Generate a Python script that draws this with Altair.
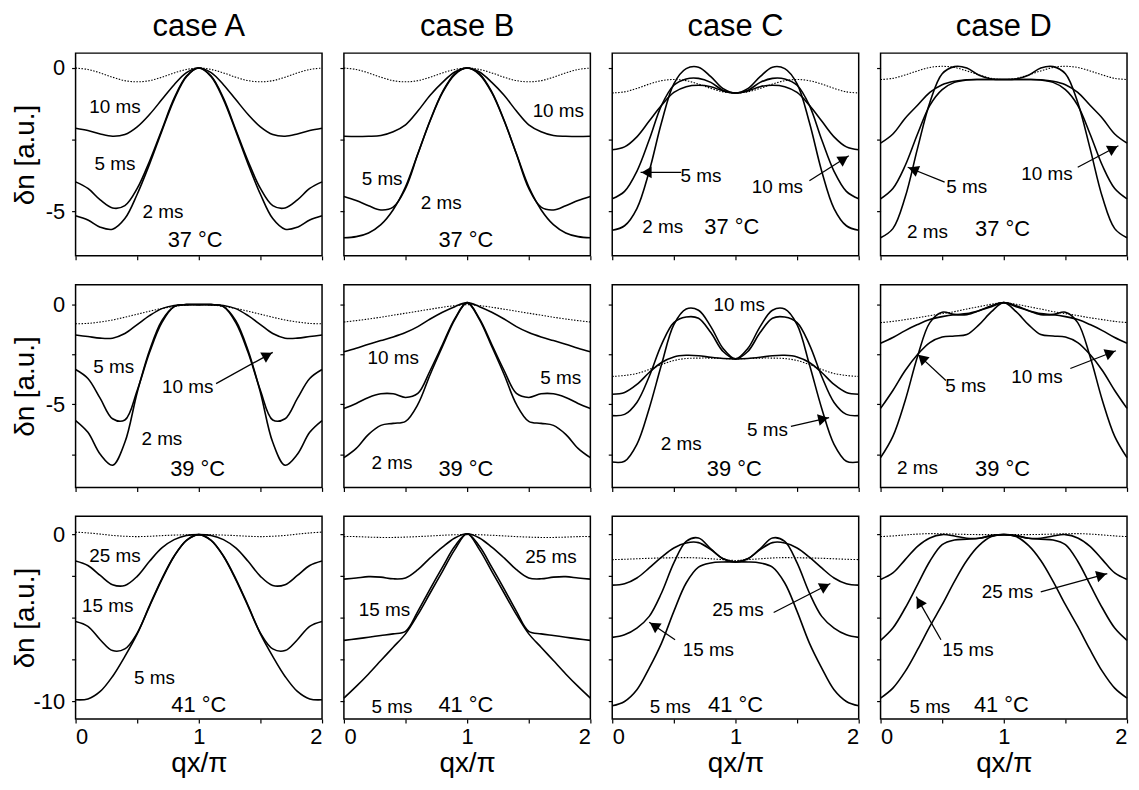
import math
import altair as alt
import pandas as pd

# ---------------- data ----------------
qx = [0.0, 0.1, 0.2, 0.3, 0.4, 0.5, 0.6, 0.7, 0.8, 0.9, 1.0,
      1.1, 1.2, 1.3, 1.4, 1.5, 1.6, 1.7, 1.8, 1.9, 2.0]

case_titles = ["case A", "case B", "case C", "case D"]

# ---- row 1 : 37 C
a1_dot = [0, -0.05, -0.17, -0.32, -0.44, -0.48, -0.44, -0.32, -0.17, -0.05, 0, -0.05, -0.17, -0.32, -0.44, -0.48, -0.44, -0.32, -0.17, -0.05, 0]
a1_10 = [-2.10, -2.18, -2.30, -2.38, -2.32, -2.05, -1.62, -1.10, -0.58, -0.16, 0, -0.16, -0.58, -1.10, -1.62, -2.05, -2.32, -2.38, -2.30, -2.18, -2.10]
a1_5 = [-3.97, -4.20, -4.60, -4.88, -4.80, -4.20, -3.25, -2.15, -1.05, -0.28, 0, -0.28, -1.05, -2.15, -3.25, -4.20, -4.80, -4.88, -4.60, -4.20, -3.97]
a1_2 = [-5.15, -5.30, -5.55, -5.62, -5.25, -4.40, -3.35, -2.20, -1.10, -0.30, 0, -0.30, -1.10, -2.20, -3.35, -4.40, -5.25, -5.62, -5.55, -5.30, -5.15]

b1_dot = [0, -0.05, -0.17, -0.32, -0.44, -0.48, -0.44, -0.32, -0.17, -0.05, 0, -0.05, -0.17, -0.32, -0.44, -0.48, -0.44, -0.32, -0.17, -0.05, 0]
b1_10 = [-2.38, -2.39, -2.38, -2.35, -2.22, -1.98, -1.50, -0.95, -0.50, -0.14, 0, -0.14, -0.50, -0.95, -1.50, -1.98, -2.22, -2.35, -2.38, -2.39, -2.38]
b1_5 = [-4.48, -4.62, -4.80, -4.95, -4.85, -4.20, -3.00, -1.82, -0.83, -0.20, 0, -0.20, -0.83, -1.82, -3.00, -4.20, -4.85, -4.95, -4.80, -4.62, -4.48]
b1_2 = [-5.92, -5.88, -5.75, -5.46, -4.94, -4.14, -2.99, -1.84, -0.86, -0.23, 0, -0.23, -0.86, -1.84, -2.99, -4.14, -4.94, -5.46, -5.75, -5.88, -5.92]

c1_dot = [-0.87, -0.83, -0.71, -0.56, -0.44, -0.40, -0.44, -0.56, -0.71, -0.83, -0.87, -0.83, -0.71, -0.56, -0.44, -0.40, -0.44, -0.56, -0.71, -0.83, -0.87]
c1_2 = [-5.66, -5.50, -4.90, -3.60, -1.90, -0.55, -0.02, 0.03, -0.30, -0.72, -0.87, -0.72, -0.30, 0.03, -0.02, -0.55, -1.90, -3.60, -4.90, -5.50, -5.66]
c1_5 = [-4.56, -4.30, -3.60, -2.50, -1.30, -0.60, -0.38, -0.36, -0.50, -0.78, -0.87, -0.78, -0.50, -0.36, -0.38, -0.60, -1.30, -2.50, -3.60, -4.30, -4.56]
c1_10 = [-2.85, -2.75, -2.40, -1.85, -1.30, -0.85, -0.65, -0.60, -0.65, -0.80, -0.87, -0.80, -0.65, -0.60, -0.65, -0.85, -1.30, -1.85, -2.40, -2.75, -2.85]

d1_dot = [-0.40, -0.36, -0.24, -0.10, 0.02, 0.06, 0.02, -0.10, -0.24, -0.36, -0.40, -0.36, -0.24, -0.10, 0.02, 0.06, 0.02, -0.10, -0.24, -0.36, -0.40]
d1_2 = [-5.92, -5.60, -4.50, -2.80, -1.20, -0.20, 0.05, 0.00, -0.25, -0.38, -0.40, -0.38, -0.25, 0.00, 0.05, -0.20, -1.20, -2.80, -4.50, -5.60, -5.92]
d1_5 = [-4.56, -4.20, -3.40, -2.30, -1.30, -0.75, -0.50, -0.42, -0.40, -0.40, -0.40, -0.40, -0.40, -0.42, -0.50, -0.75, -1.30, -2.30, -3.40, -4.20, -4.56]
d1_10 = [-2.62, -2.30, -1.75, -1.30, -0.85, -0.58, -0.46, -0.41, -0.40, -0.40, -0.40, -0.40, -0.40, -0.41, -0.46, -0.58, -0.85, -1.30, -1.75, -2.30, -2.62]

# ---- row 2 : 39 C
a2_dot = [-0.96, -0.94, -0.87, -0.77, -0.63, -0.48, -0.33, -0.19, -0.09, -0.02, 0, -0.02, -0.09, -0.19, -0.33, -0.48, -0.63, -0.77, -0.87, -0.94, -0.96]
a2_10 = [-1.52, -1.60, -1.68, -1.68, -1.45, -1.00, -0.55, -0.20, -0.04, 0, 0, 0, -0.04, -0.20, -0.55, -1.00, -1.45, -1.68, -1.68, -1.60, -1.52]
a2_5 = [-3.25, -3.70, -4.70, -5.72, -5.78, -4.30, -2.40, -0.90, -0.10, 0, 0, 0, -0.10, -0.90, -2.40, -4.30, -5.78, -5.72, -4.70, -3.70, -3.25]
a2_2 = [-5.81, -6.40, -7.50, -8.05, -6.90, -4.40, -2.30, -0.80, -0.10, 0, 0, 0, -0.10, -0.80, -2.30, -4.40, -6.90, -8.05, -7.50, -6.40, -5.81]

b2_dot = [-0.87, -0.80, -0.72, -0.63, -0.53, -0.43, -0.33, -0.23, -0.13, -0.05, 0, -0.05, -0.13, -0.23, -0.33, -0.43, -0.53, -0.63, -0.72, -0.80, -0.87]
b2_10 = [-2.36, -2.18, -1.98, -1.80, -1.62, -1.40, -1.10, -0.72, -0.38, -0.10, 0.10, -0.10, -0.38, -0.72, -1.10, -1.40, -1.62, -1.80, -1.98, -2.18, -2.36]
b2_5 = [-5.20, -4.95, -4.65, -4.47, -4.47, -4.65, -4.45, -3.30, -2.00, -0.70, 0.10, -0.70, -2.00, -3.30, -4.45, -4.65, -4.47, -4.47, -4.65, -4.95, -5.20]
b2_2 = [-7.67, -7.20, -6.50, -6.05, -5.95, -5.85, -5.00, -3.50, -2.10, -0.75, 0.10, -0.75, -2.10, -3.50, -5.00, -5.85, -5.95, -6.05, -6.50, -7.20, -7.67]

c2_dot = [-3.60, -3.55, -3.45, -3.25, -3.00, -2.80, -2.70, -2.68, -2.68, -2.70, -2.72, -2.70, -2.68, -2.68, -2.70, -2.80, -3.00, -3.25, -3.45, -3.55, -3.60]
c2_2 = [-7.89, -7.85, -7.00, -5.20, -3.00, -1.00, -0.22, -0.28, -1.10, -2.20, -2.72, -2.20, -1.10, -0.28, -0.22, -1.00, -3.00, -5.20, -7.00, -7.85, -7.89]
c2_5 = [-5.56, -5.50, -4.90, -3.60, -2.00, -0.90, -0.62, -0.68, -1.40, -2.35, -2.72, -2.35, -1.40, -0.68, -0.62, -0.90, -2.00, -3.60, -4.90, -5.50, -5.56]
c2_10 = [-4.49, -4.40, -4.00, -3.40, -2.90, -2.62, -2.54, -2.56, -2.64, -2.70, -2.72, -2.70, -2.64, -2.56, -2.54, -2.62, -2.90, -3.40, -4.00, -4.40, -4.49]

d2_dot = [-0.90, -0.84, -0.75, -0.66, -0.55, -0.45, -0.35, -0.22, -0.10, 0.02, 0.10, 0.02, -0.10, -0.22, -0.35, -0.45, -0.55, -0.66, -0.75, -0.84, -0.90]
d2_2 = [-7.67, -6.60, -4.80, -2.60, -0.90, -0.38, -0.50, -0.50, -0.30, -0.05, 0.10, -0.05, -0.30, -0.50, -0.50, -0.38, -0.90, -2.60, -4.80, -6.60, -7.67]
d2_5 = [-5.20, -4.30, -3.30, -2.50, -1.90, -1.62, -1.57, -1.50, -1.00, -0.35, 0.10, -0.35, -1.00, -1.50, -1.57, -1.62, -1.90, -2.50, -3.30, -4.30, -5.20]
d2_10 = [-1.93, -1.65, -1.30, -1.00, -0.75, -0.60, -0.50, -0.45, -0.30, -0.10, 0.10, -0.10, -0.30, -0.45, -0.50, -0.60, -0.75, -1.00, -1.30, -1.65, -1.93]

# ---- row 3 : 41 C
a3_dot = [0.15, 0.10, 0.03, -0.05, -0.10, -0.12, -0.10, -0.06, -0.03, -0.01, 0, -0.01, -0.03, -0.06, -0.10, -0.12, -0.10, -0.05, 0.03, 0.10, 0.15]
a3_25 = [-1.58, -1.85, -2.45, -3.00, -3.05, -2.50, -1.60, -0.80, -0.30, -0.05, 0, -0.05, -0.30, -0.80, -1.60, -2.50, -3.05, -3.00, -2.45, -1.85, -1.58]
a3_15 = [-5.21, -5.50, -6.30, -6.95, -6.85, -5.90, -4.25, -2.65, -1.28, -0.34, 0, -0.34, -1.28, -2.65, -4.25, -5.90, -6.85, -6.95, -6.30, -5.50, -5.21]
a3_5 = [-9.90, -9.85, -9.40, -8.50, -7.30, -5.95, -4.30, -2.70, -1.30, -0.35, 0, -0.35, -1.30, -2.70, -4.30, -5.95, -7.30, -8.50, -9.40, -9.85, -9.90]

b3_dot = [-0.12, -0.12, -0.15, -0.17, -0.17, -0.15, -0.12, -0.08, -0.04, -0.01, 0, -0.01, -0.04, -0.08, -0.12, -0.15, -0.17, -0.17, -0.15, -0.12, -0.12]
b3_25 = [-2.67, -2.60, -2.52, -2.55, -2.65, -2.60, -2.10, -1.40, -0.75, -0.20, 0.05, -0.20, -0.75, -1.40, -2.10, -2.60, -2.65, -2.55, -2.52, -2.60, -2.67]
b3_15 = [-6.34, -6.25, -6.15, -6.05, -5.95, -5.80, -4.60, -3.25, -1.95, -0.70, 0.05, -0.70, -1.95, -3.25, -4.60, -5.80, -5.95, -6.05, -6.15, -6.25, -6.34]
b3_5 = [-9.80, -9.10, -8.35, -7.55, -6.75, -5.95, -4.80, -3.50, -2.20, -0.90, 0.05, -0.90, -2.20, -3.50, -4.80, -5.95, -6.75, -7.55, -8.35, -9.10, -9.80]

c3_dot = [-1.50, -1.48, -1.45, -1.42, -1.40, -1.39, -1.38, -1.40, -1.45, -1.50, -1.55, -1.50, -1.45, -1.40, -1.38, -1.39, -1.40, -1.42, -1.45, -1.48, -1.50]
c3_25 = [-3.03, -2.95, -2.60, -2.00, -1.35, -0.80, -0.50, -0.48, -0.90, -1.45, -1.64, -1.45, -0.90, -0.48, -0.50, -0.80, -1.35, -2.00, -2.60, -2.95, -3.03]
c3_15 = [-6.16, -6.00, -5.60, -4.90, -3.50, -1.70, -0.40, -0.20, -0.85, -1.45, -1.64, -1.45, -0.85, -0.20, -0.40, -1.70, -3.50, -4.90, -5.60, -6.00, -6.16]
c3_5 = [-10.26, -10.00, -9.30, -8.00, -6.50, -4.60, -2.90, -1.95, -1.70, -1.64, -1.64, -1.64, -1.70, -1.95, -2.90, -4.60, -6.50, -8.00, -9.30, -10.00, -10.26]

d3_dot = [-0.12, -0.08, -0.02, 0.03, 0.06, 0.05, 0.03, 0.01, 0, 0, 0, 0, 0, 0.01, 0.03, 0.05, 0.06, 0.03, -0.02, -0.08, -0.12]
d3_25 = [-2.69, -2.30, -1.50, -0.70, -0.20, 0.00, -0.08, -0.22, -0.22, -0.06, 0, -0.06, -0.22, -0.22, -0.08, 0.00, -0.20, -0.70, -1.50, -2.30, -2.69]
d3_15 = [-6.34, -5.60, -4.40, -3.00, -1.60, -0.60, -0.32, -0.28, -0.22, -0.06, 0, -0.06, -0.22, -0.28, -0.32, -0.60, -1.60, -3.00, -4.40, -5.60, -6.34]
d3_5 = [-9.80, -9.20, -8.20, -6.90, -5.50, -4.20, -2.80, -1.55, -0.65, -0.12, 0, -0.12, -0.65, -1.55, -2.80, -4.20, -5.50, -6.90, -8.20, -9.20, -9.80]

# ---- annotation texts (text, qx, dn) and arrows (from qx, dn, to qx, dn)
a1_labels = [("10 ms", 0.32, -1.35), ("5 ms", 0.32, -3.36), ("2 ms", 0.71, -5.02), ("37 °C", 0.97, -6.0)]
b1_labels = [("10 ms", 1.74, -1.5), ("5 ms", 0.31, -3.87), ("2 ms", 0.79, -4.71), ("37 °C", 0.99, -6.0)]
c1_labels = [("5 ms", 0.72, -3.75), ("10 ms", 1.34, -4.16), ("2 ms", 0.41, -5.54), ("37 °C", 0.97, -5.54)]
d1_labels = [("5 ms", 0.70, -4.16), ("10 ms", 1.35, -3.70), ("2 ms", 0.38, -5.72), ("37 °C", 0.99, -5.6)]
a2_labels = [("5 ms", 0.31, -3.14), ("10 ms", 0.91, -4.13), ("2 ms", 0.70, -6.72), ("39 °C", 0.99, -8.25)]
b2_labels = [("10 ms", 0.40, -2.67), ("5 ms", 1.76, -3.66), ("2 ms", 0.39, -7.92), ("39 °C", 0.99, -8.25)]
c2_labels = [("10 ms", 1.03, 0.0), ("5 ms", 1.26, -6.27), ("2 ms", 0.56, -7.0), ("39 °C", 0.99, -8.25)]
d2_labels = [("5 ms", 0.69, -4.1), ("10 ms", 1.27, -3.63), ("2 ms", 0.30, -8.17), ("39 °C", 0.99, -8.25)]
a3_labels = [("25 ms", 0.32, -1.29), ("15 ms", 0.26, -4.26), ("5 ms", 0.64, -8.57), ("41 °C", 1.0, -10.2)]
b3_labels = [("25 ms", 1.68, -1.35), ("15 ms", 0.33, -4.5), ("5 ms", 0.39, -10.36), ("41 °C", 0.99, -10.2)]
c3_labels = [("25 ms", 1.02, -4.5), ("15 ms", 0.78, -6.89), ("5 ms", 0.47, -10.36), ("41 °C", 1.0, -10.2)]
d3_labels = [("25 ms", 1.03, -3.43), ("15 ms", 0.71, -6.9), ("5 ms", 0.40, -10.36), ("41 °C", 0.98, -10.2)]

a2_arrows = [(1.14, -3.96, 1.60, -2.39)]
c1_arrows = [(0.56, -3.64, 0.23, -3.64), (1.60, -3.93, 1.92, -3.06)]
d1_arrows = [(0.52, -3.98, 0.22, -3.46), (1.60, -3.46, 1.93, -2.71)]
c2_arrows = [(1.45, -6.1, 1.76, -5.66)]
d2_arrows = [(0.53, -3.8, 0.30, -2.48), (1.54, -3.2, 1.91, -2.31)]
c3_arrows = [(1.31, -4.67, 1.77, -2.93), (0.51, -6.3, 0.30, -5.25)]
d3_arrows = [(1.30, -3.43, 1.84, -2.34), (0.49, -6.3, 0.29, -3.72)]

# ---------------- layout / style ----------------
FONT = "Liberation Sans"
W, H = 248, 204
Y_DOMAINS = [(-6.55, 0.52), (-9.16, 1.0), (-11.05, 1.1)]
Y_TICKS = [[0, -2.5, -5], [0, -2.5, -5, -7.5], [0, -2.5, -5, -7.5, -10]]
Y_LABELED = [[0, -5], [0, -5], [0, -10]]

PANELS = [
    [([("dotted", a1_dot), ("10", a1_10), ("5", a1_5), ("2", a1_2)], a1_labels, []),
     ([("dotted", b1_dot), ("10", b1_10), ("5", b1_5), ("2", b1_2)], b1_labels, []),
     ([("dotted", c1_dot), ("10", c1_10), ("5", c1_5), ("2", c1_2)], c1_labels, c1_arrows),
     ([("dotted", d1_dot), ("10", d1_10), ("5", d1_5), ("2", d1_2)], d1_labels, d1_arrows)],
    [([("dotted", a2_dot), ("10", a2_10), ("5", a2_5), ("2", a2_2)], a2_labels, a2_arrows),
     ([("dotted", b2_dot), ("10", b2_10), ("5", b2_5), ("2", b2_2)], b2_labels, []),
     ([("dotted", c2_dot), ("10", c2_10), ("5", c2_5), ("2", c2_2)], c2_labels, c2_arrows),
     ([("dotted", d2_dot), ("10", d2_10), ("5", d2_5), ("2", d2_2)], d2_labels, d2_arrows)],
    [([("dotted", a3_dot), ("25", a3_25), ("15", a3_15), ("5", a3_5)], a3_labels, []),
     ([("dotted", b3_dot), ("25", b3_25), ("15", b3_15), ("5", b3_5)], b3_labels, []),
     ([("dotted", c3_dot), ("25", c3_25), ("15", c3_15), ("5", c3_5)], c3_labels, c3_arrows),
     ([("dotted", d3_dot), ("25", d3_25), ("15", d3_15), ("5", d3_5)], d3_labels, d3_arrows)],
]


def make_panel(r, c):
    curves, labels, arrows = PANELS[r][c]
    ymin, ymax = Y_DOMAINS[r]
    xs = alt.Scale(domain=[0, 2], nice=False, zero=False)
    ys = alt.Scale(domain=[ymin, ymax], nice=False, zero=False)

    lab = Y_LABELED[r]
    yexpr = ("datum.value == 0 ? '0' : (datum.value == %s ? '-%s' : '')" % (lab[1], abs(lab[1])))
    yaxis_kw = dict(values=Y_TICKS[r], labels=(c == 0), labelExpr=yexpr, labelPadding=7,
                    titleX=-50, titleBaseline="middle", titleFontSize=28)
    xaxis_kw = dict(values=[0, 0.5, 1, 1.5, 2], labels=(r == 2), labelPadding=4,
                    labelExpr="datum.value % 1 == 0 ? format(datum.value, 'd') : ''",
                    titlePadding=2, titleFontSize=28)
    ytitle = "δn [a.u.]" if c == 0 else None
    xtitle = "qx/π" if r == 2 else None

    X = alt.X("x:Q", scale=xs, axis=alt.Axis(**xaxis_kw), title=xtitle)
    Y = alt.Y("y:Q", scale=ys, axis=alt.Axis(**yaxis_kw), title=ytitle)

    rows = []
    for name, vals in curves:
        for xv, yv in zip(qx, vals):
            rows.append({"x": xv, "y": yv, "s": name})
    df = pd.DataFrame(rows)

    solid = alt.Chart(df).transform_filter("datum.s != 'dotted'").mark_line(
        interpolate="catmull-rom", color="black", strokeWidth=1.6).encode(x=X, y=Y, detail="s:N")
    dotted = alt.Chart(df).transform_filter("datum.s == 'dotted'").mark_line(
        interpolate="catmull-rom", color="black", strokeWidth=1.1, strokeDash=[1.5, 1.5]).encode(x=X, y=Y)

    ldf = pd.DataFrame([{"x": x, "y": y, "t": t, "fs": 22 if "°" in t else 19} for t, x, y in labels])
    texts = alt.Chart(ldf).mark_text(font=FONT, color="black", baseline="middle", align="center").encode(
        x=X, y=Y, text="t:N", size=alt.Size("fs:Q", scale=None))

    layers = [dotted, solid, texts]
    if arrows:
        sx = W / 2.0
        sy = H / (ymax - ymin)
        arr = []
        for x1, y1, x2, y2 in arrows:
            dxp = (x2 - x1) * sx
            dyp = -(y2 - y1) * sy
            L = math.hypot(dxp, dyp)
            ang = math.degrees(math.atan2(dxp, -dyp)) % 360
            back = 6.0
            hx = x2 - (dxp / L) * back / sx
            hy = y2 + (dyp / L) * back / sy
            arr.append({"x": x1, "y": y1, "x2": x2, "y2": y2, "hx": hx, "hy": hy, "ang": ang})
        adf = pd.DataFrame(arr)
        rule = alt.Chart(adf).mark_rule(color="black", strokeWidth=1.3).encode(
            x=X, y=Y, x2="x2:Q", y2="y2:Q")
        head = alt.Chart(adf).mark_point(shape="triangle-up", filled=True, color="black",
                                          opacity=1, size=140).encode(
            x=alt.X("hx:Q", scale=xs, axis=alt.Axis(**xaxis_kw), title=xtitle),
            y=alt.Y("hy:Q", scale=ys, axis=alt.Axis(**yaxis_kw), title=ytitle),
            angle=alt.Angle("ang:Q", scale=None))
        layers += [rule, head]

    ch = alt.layer(*layers).properties(width=W, height=H)
    if r == 0:
        ch = ch.properties(title=alt.Title(case_titles[c], fontSize=31, font=FONT,
                                           fontWeight="normal", color="black", offset=10))
    return ch


panels = [make_panel(r, c) for r in range(3) for c in range(4)]

chart = alt.concat(*panels, columns=4, spacing={"row": 29, "column": 22}, bounds="flush").properties(
    padding={"left": 3, "top": 0, "right": 0, "bottom": 0}, background="white"
).configure_view(stroke="black", strokeWidth=1.5).configure_axis(
    domain=False, grid=False, tickColor="black", tickSize=4, tickWidth=1.2,
    labelFont=FONT, labelFontSize=22, labelColor="black",
    titleFont=FONT, titleFontWeight="normal", titleColor="black"
)

chart.save("out.html", embed_options={"renderer": "svg", "actions": False})
